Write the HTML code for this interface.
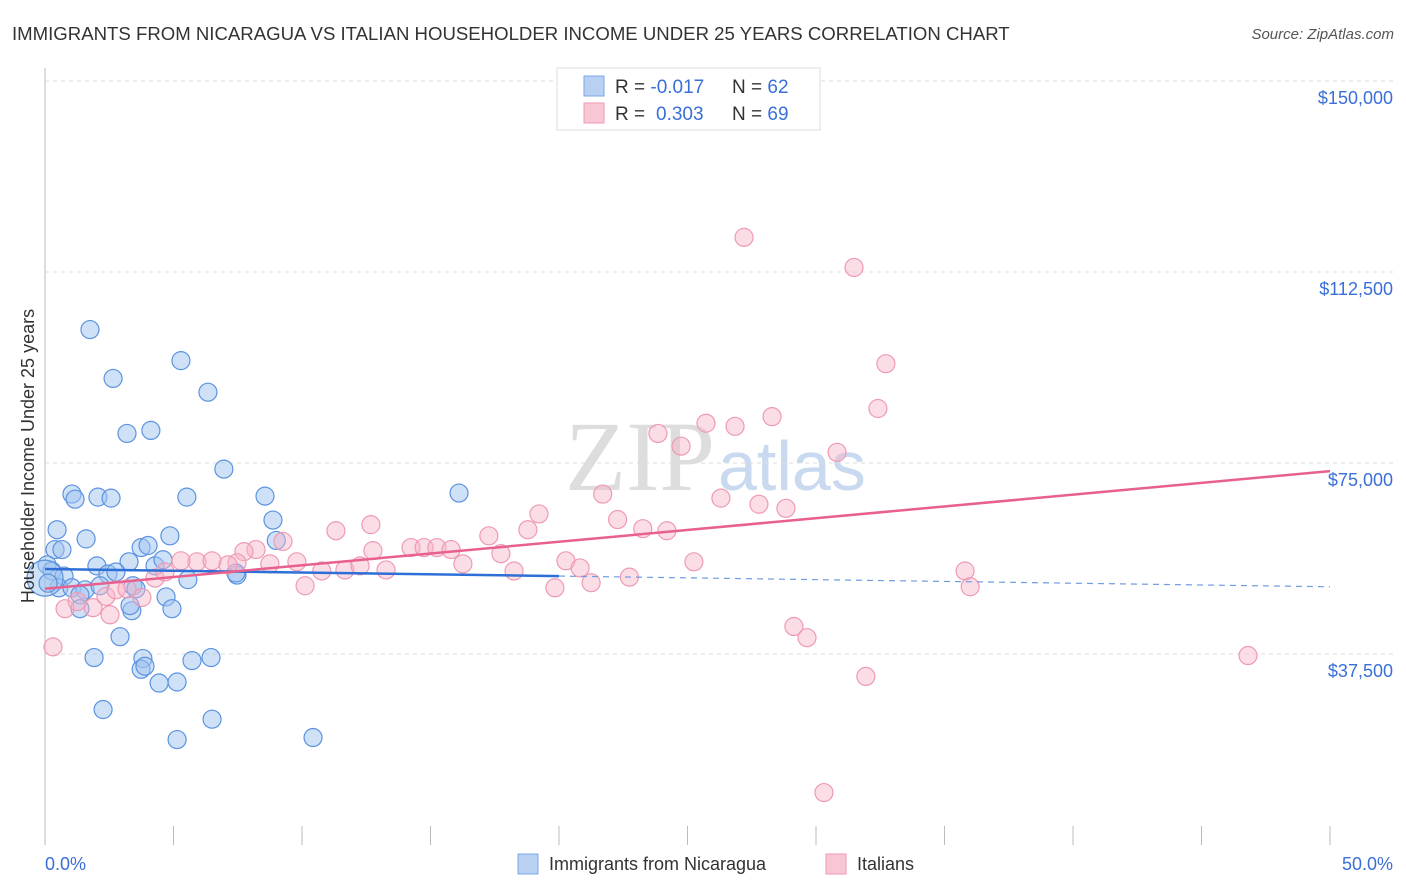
<!DOCTYPE html>
<html><head><meta charset="utf-8">
<style>
body{margin:0;background:#fff;font-family:"Liberation Sans",sans-serif;}
svg{display:block}
</style></head>
<body>
<svg id="chart" width="1406" height="892">
<text x="12" y="40" font-size="18.6" fill="#333">IMMIGRANTS FROM NICARAGUA VS ITALIAN HOUSEHOLDER INCOME UNDER 25 YEARS CORRELATION CHART</text>
<text x="1394" y="39" font-size="15" fill="#555" font-style="italic" text-anchor="end">Source: ZipAtlas.com</text>
<text x="715" y="490" font-size="100" fill="#ddd" text-anchor="end" font-family="Liberation Serif">ZIP</text>
<text x="718" y="490" font-size="70" fill="#c9d9ef">atlas</text>
<g id="grid"></g>
<g id="pts"></g>
<g id="trend"></g>
<text transform="translate(34,456) rotate(-90)" font-size="18" fill="#333" text-anchor="middle">Householder Income Under 25 years</text>
<text x="45" y="870" font-size="18" fill="#3a6fd8">0.0%</text>
<text x="1393" y="870" font-size="18" fill="#3a6fd8" text-anchor="end">50.0%</text>
<g>
<rect x="557" y="68" width="263" height="62" fill="#fff" stroke="#ddd"/>
<rect x="584" y="76" width="20" height="20" fill="#b8d1f3" stroke="#7aa6e6"/>
<rect x="584" y="103" width="20" height="20" fill="#f9c6d4" stroke="#ee9ab3"/>
<text x="615" y="93" font-size="19" fill="#333">R = <tspan fill="#3a6fd8">-0.017</tspan><tspan x="732">N = </tspan><tspan fill="#3a6fd8">62</tspan></text>
<text x="615" y="120" font-size="19" fill="#333">R = <tspan fill="#3a6fd8" x="656">0.303</tspan><tspan x="732">N = </tspan><tspan fill="#3a6fd8">69</tspan></text>
</g>
<g>
<rect x="518" y="854" width="20" height="20" fill="#b8d1f3" stroke="#7aa6e6"/>
<text x="549" y="870" font-size="18" fill="#333">Immigrants from Nicaragua</text>
<rect x="826" y="854" width="20" height="20" fill="#f9c6d4" stroke="#ee9ab3"/>
<text x="857" y="870" font-size="18" fill="#333">Italians</text>
</g>
</svg>
<script>
const yTicks=[37500,75000,112500,150000];
const yTickLabels=["$37,500","$75,000","$112,500","$150,000"];
const xTicks=[0,5,10,15,20,25,30,35,40,45,50];
const blueX=[1.75,5.29,2.65,6.34,3.19,4.12,6.96,1.05,2.06,2.57,1.17,5.52,8.56,16.11,8.87,0.47,1.6,4.86,0.39,0.66,3.74,9.0,3.27,2.02,4.28,4.59,0.08,0.27,0.74,2.45,2.76,0.54,1.05,1.56,1.36,2.14,3.42,3.54,5.56,7.47,4.71,3.38,4.94,1.36,2.92,1.91,3.81,5.72,6.46,3.74,3.89,4.44,5.14,2.26,6.5,5.14,10.43,4.01,0.0,3.31,7.43,0.12];
const blueY=[101200,95100,91600,88900,80800,81400,73800,68900,68300,68100,67900,68300,68500,69100,63800,61900,60100,60700,58000,58000,58400,59800,55600,54800,54800,56000,55000,53800,52800,53200,53600,50500,50500,50100,49100,50900,50900,50300,52100,53000,48700,46000,46400,46400,40900,36800,36600,36200,36800,34500,35100,31800,32000,26600,24700,20700,21100,58800,52400,47000,53400,51400];
const pinkX=[27.2,31.48,32.72,32.41,28.29,26.85,25.72,23.85,24.75,30.82,21.7,19.22,26.3,27.78,28.83,22.28,23.26,24.2,11.32,12.68,17.27,18.79,9.26,8.21,7.74,5.91,5.29,6.5,7.47,7.12,9.8,8.75,12.76,14.24,14.75,15.25,15.8,16.26,17.74,20.27,20.82,25.25,10.77,11.67,12.26,13.27,10.12,18.25,22.74,19.84,21.25,35.8,36.0,29.14,29.65,31.94,46.81,30.31,0.31,0.78,1.87,1.25,2.37,2.76,4.28,3.77,3.19,4.67,2.53];
const pinkY=[119300,113400,94500,85700,84100,82200,82800,80800,78300,77100,68900,65000,68100,66900,66100,63900,62100,61700,61700,62900,60700,61900,59600,58000,57600,55600,55800,55800,55400,55000,55600,55200,57800,58400,58400,58400,58000,55200,57200,55800,54400,55600,53800,54000,54800,54000,50900,53800,52600,50500,51500,53800,50700,42900,40700,33100,37200,10300,38900,46400,46600,47800,48800,50100,52400,48600,50300,53600,45200];
const blueTrend=[0,54200,40,51400];
const pinkTrend=[0,50300,50,73400];

const NS="http://www.w3.org/2000/svg";
const X=v=>45+v*25.7;
const Y=v=>845-v*191/37500;
function mk(tag,attrs,parent){const e=document.createElementNS(NS,tag);for(const k in attrs)e.setAttribute(k,attrs[k]);parent.appendChild(e);return e;}
const grid=document.getElementById('grid');
const axis=mk('line',{x1:45,y1:68,x2:45,y2:845,stroke:'#bbb'},grid);


yTicks.forEach((t,i)=>{
  const l=mk('line',{x1:45,y1:Y(t),x2:1393,y2:Y(t),stroke:'#ddd','stroke-dasharray':'4,4'},grid);
  
  
  const tx=mk('text',{x:1393,y:Y(t)+23,'font-size':18,fill:'#3a6fd8','text-anchor':'end'},grid);
  tx.textContent=yTickLabels[i];
  
  
});
xTicks.forEach(t=>{
  const l=mk('line',{x1:X(t),y1:826,x2:X(t),y2:845,stroke:'#bbb'},grid);
  
  
});
const pts=document.getElementById('pts');
blueX.forEach((x,i)=>{
  const c=mk('circle',{cx:X(x),cy:Y(blueY[i]),r:(i===58?18:9),fill:'rgba(160,195,240,0.5)',stroke:'#5b93e0','stroke-width':1.2},pts);
  
  
});
pinkX.forEach((x,i)=>{
  const c=mk('circle',{cx:X(x),cy:Y(pinkY[i]),r:9,fill:'rgba(247,180,200,0.45)',stroke:'#ef9ab4','stroke-width':1.2},pts);
  
  
});
const tr=document.getElementById('trend');
const bslope=(blueTrend[3]-blueTrend[1])/(blueTrend[2]-blueTrend[0]);
const bAt=x=>blueTrend[1]+bslope*(x-blueTrend[0]);
let l1=mk('line',{x1:X(0),y1:Y(bAt(0)),x2:X(20),y2:Y(bAt(20)),stroke:'#2d6fd6','stroke-width':2.5},tr);


let l2=mk('line',{x1:X(20),y1:Y(bAt(20)),x2:X(50),y2:Y(bAt(50)),stroke:'#6f9be0','stroke-width':1.2,'stroke-dasharray':'6,5'},tr);


let l3=mk('line',{x1:X(pinkTrend[0]),y1:Y(pinkTrend[1]),x2:X(pinkTrend[2]),y2:Y(pinkTrend[3]),stroke:'#e8608e','stroke-width':2.5},tr);


</script>
</body></html>
